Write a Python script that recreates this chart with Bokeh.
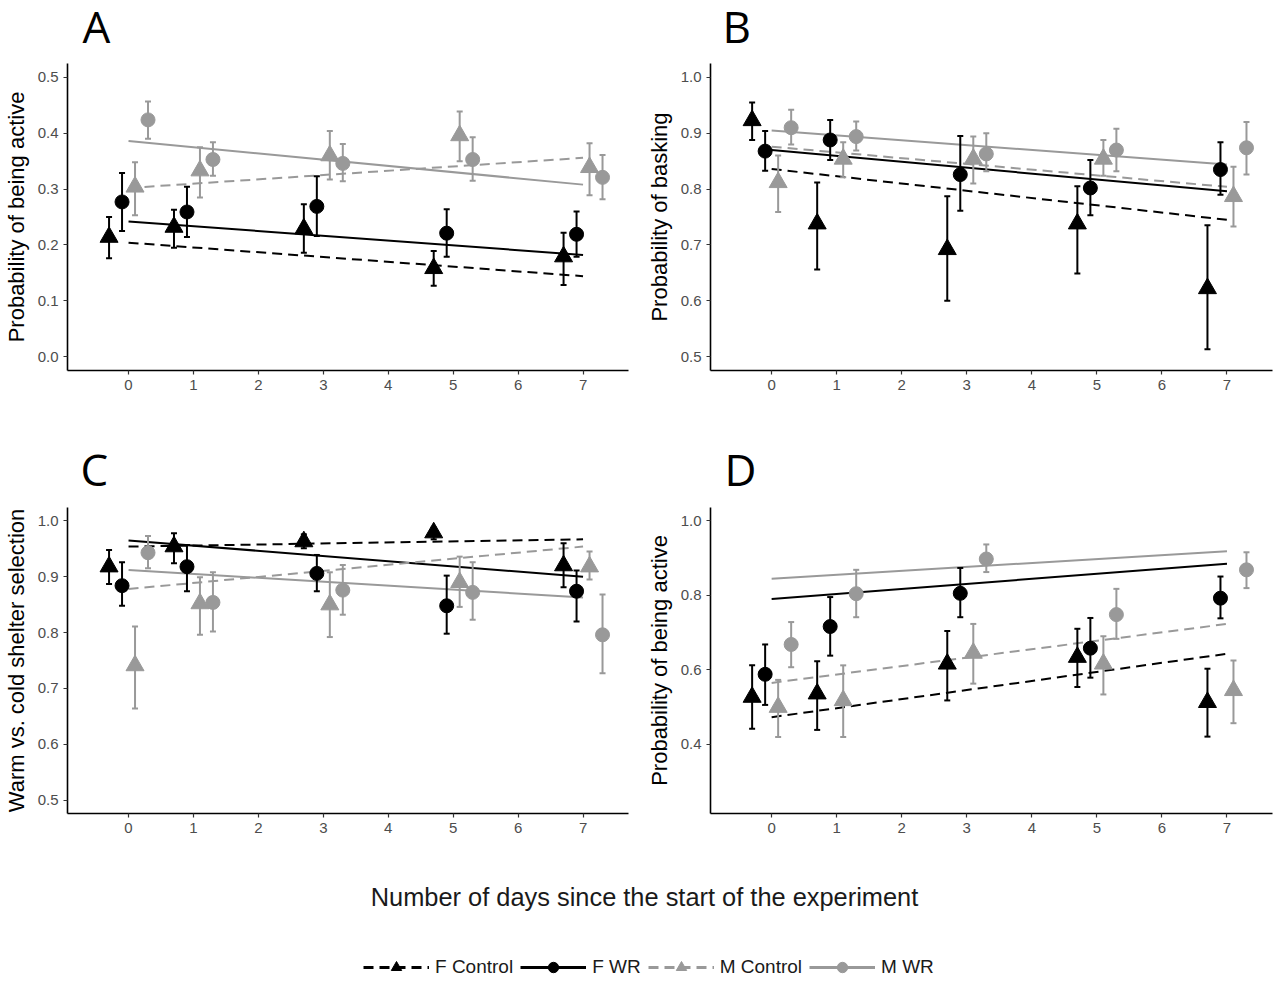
from bokeh.plotting import figure
from bokeh.layouts import column, row
from bokeh.models import (Range1d, FixedTicker, PrintfTickFormatter, Legend,
                          LegendItem, Label, ColumnDataSource)
from bokeh.embed import file_html
from bokeh.resources import INLINE

# ---------------- data ----------------
days = [0, 1, 3, 5, 7]
fit_days = [0, 7]
groups = ["F Control", "F WR", "M Control", "M WR"]

# Panel A: Probability of being active
a_fc = [0.214, 0.232, 0.229, 0.158, 0.179]
a_fc_lo = [0.176, 0.195, 0.186, 0.127, 0.128]
a_fc_hi = [0.250, 0.263, 0.273, 0.189, 0.222]
a_fwr = [0.277, 0.259, 0.269, 0.221, 0.219]
a_fwr_lo = [0.225, 0.214, 0.216, 0.179, 0.179]
a_fwr_hi = [0.329, 0.304, 0.323, 0.264, 0.260]
a_mc = [0.304, 0.333, 0.360, 0.396, 0.339]
a_mc_lo = [0.253, 0.285, 0.317, 0.350, 0.289]
a_mc_hi = [0.348, 0.375, 0.404, 0.439, 0.382]
a_mwr = [0.424, 0.353, 0.346, 0.353, 0.321]
a_mwr_lo = [0.390, 0.324, 0.314, 0.315, 0.282]
a_mwr_hi = [0.457, 0.384, 0.381, 0.393, 0.361]
a_fit_fc = [0.204, 0.144]
a_fit_fwr = [0.242, 0.182]
a_fit_mc = [0.302, 0.356]
a_fit_mwr = [0.386, 0.308]

# Panel B: Probability of basking
b_fc = [0.923, 0.738, 0.692, 0.738, 0.622]
b_fc_lo = [0.888, 0.656, 0.600, 0.649, 0.513]
b_fc_hi = [0.955, 0.812, 0.787, 0.805, 0.735]
b_fwr = [0.868, 0.888, 0.826, 0.802, 0.835]
b_fwr_lo = [0.833, 0.852, 0.761, 0.753, 0.790]
b_fwr_hi = [0.904, 0.924, 0.895, 0.852, 0.884]
b_mc = [0.812, 0.854, 0.854, 0.854, 0.787]
b_mc_lo = [0.759, 0.821, 0.810, 0.824, 0.733]
b_mc_hi = [0.860, 0.884, 0.894, 0.888, 0.840]
b_mwr = [0.910, 0.894, 0.863, 0.870, 0.874]
b_mwr_lo = [0.880, 0.869, 0.832, 0.832, 0.826]
b_mwr_hi = [0.942, 0.921, 0.900, 0.908, 0.920]
b_fit_fc = [0.836, 0.745]
b_fit_fwr = [0.870, 0.796]
b_fit_mc = [0.876, 0.804]
b_fit_mwr = [0.905, 0.844]

# Panel C: Warm vs. cold shelter selection
c_fc = [0.918, 0.954, 0.963, 0.979, 0.920]
c_fc_lo = [0.887, 0.924, 0.951, 0.967, 0.881]
c_fc_hi = [0.948, 0.978, 0.976, 0.988, 0.960]
c_fwr = [0.884, 0.918, 0.906, 0.848, 0.874]
c_fwr_lo = [0.848, 0.874, 0.874, 0.798, 0.820]
c_fwr_hi = [0.926, 0.957, 0.939, 0.902, 0.911]
c_mc = [0.741, 0.852, 0.850, 0.890, 0.918]
c_mc_lo = [0.664, 0.796, 0.792, 0.846, 0.895]
c_mc_hi = [0.811, 0.899, 0.908, 0.936, 0.945]
c_mwr = [0.943, 0.854, 0.876, 0.872, 0.796]
c_mwr_lo = [0.915, 0.802, 0.832, 0.823, 0.727]
c_mwr_hi = [0.973, 0.908, 0.921, 0.926, 0.868]
c_fit_fc = [0.954, 0.967]
c_fit_fwr = [0.965, 0.900]
c_fit_mc = [0.878, 0.954]
c_fit_mwr = [0.912, 0.863]

# Panel D: Probability of being active
d_fc = [0.527, 0.536, 0.616, 0.634, 0.513]
d_fc_lo = [0.442, 0.439, 0.518, 0.554, 0.421]
d_fc_hi = [0.612, 0.623, 0.704, 0.710, 0.603]
d_fwr = [0.588, 0.716, 0.805, 0.658, 0.792]
d_fwr_lo = [0.506, 0.638, 0.741, 0.579, 0.738]
d_fwr_hi = [0.668, 0.795, 0.873, 0.739, 0.850]
d_mc = [0.500, 0.518, 0.645, 0.616, 0.545]
d_mc_lo = [0.420, 0.420, 0.563, 0.534, 0.457]
d_mc_hi = [0.573, 0.612, 0.723, 0.690, 0.625]
d_mwr = [0.668, 0.804, 0.897, 0.748, 0.868]
d_mwr_lo = [0.607, 0.741, 0.862, 0.683, 0.819]
d_mwr_hi = [0.728, 0.868, 0.936, 0.817, 0.915]
d_fit_fc = [0.473, 0.643]
d_fit_fwr = [0.790, 0.884]
d_fit_mc = [0.565, 0.723]
d_fit_mwr = [0.844, 0.918]

x_ticks = [0, 1, 2, 3, 4, 5, 6, 7]
x_title = "Number of days since the start of the experiment"
panel_letters = ["A", "B", "C", "D"]

# ---------------- styles ----------------
BLACK = "#000000"
GREY = "#999999"
style = {
    "F Control": dict(color=BLACK, dash="10 6", marker="triangle", size=18, dodge=-0.3),
    "F WR": dict(color=BLACK, dash="solid", marker="circle", size=14, dodge=-0.1),
    "M Control": dict(color=GREY, dash="10 6", marker="triangle", size=18, dodge=0.1),
    "M WR": dict(color=GREY, dash="solid", marker="circle", size=14, dodge=0.3),
}
FONT = "Liberation Sans"
W = 1279


def make_panel(ylabel, yrange, yticks, series, fits, width, height,
               bl, br, bb):
    p = figure(width=width, height=height, x_range=Range1d(-0.94, 7.7),
               y_range=Range1d(*yrange), output_backend="svg",
               toolbar_location=None, min_border_left=bl, min_border_right=br,
               min_border_top=0, min_border_bottom=bb)
    p.outline_line_color = None
    p.grid.visible = False
    p.background_fill_color = "white"
    p.xaxis.ticker = FixedTicker(ticks=x_ticks)
    p.yaxis.ticker = FixedTicker(ticks=yticks)
    p.yaxis.formatter = PrintfTickFormatter(format="%.1f")
    for ax in (p.xaxis, p.yaxis):
        ax.axis_line_color = BLACK
        ax.axis_line_width = 1.6
        ax.major_tick_line_color = "#333333"
        ax.major_tick_line_width = 1.2
        ax.major_tick_in = 0
        ax.major_tick_out = 4
        ax.minor_tick_line_color = None
        ax.major_label_text_color = "#4d4d4d"
        ax.major_label_text_font = FONT
        ax.major_label_text_font_size = "15px"
        ax.major_label_standoff = 5
    p.yaxis.axis_label = ylabel
    p.yaxis.axis_label_text_font = FONT
    p.yaxis.axis_label_text_font_size = "22px"
    p.yaxis.axis_label_text_font_style = "normal"
    p.yaxis.axis_label_text_color = BLACK
    p.yaxis.axis_label_standoff = 6

    # fitted lines
    for g in groups:
        st = style[g]
        p.line(fit_days, fits[g], line_color=st["color"], line_width=2,
               line_dash=st["dash"])
    # error bars + points
    for g in groups:
        st = style[g]
        mean, lo, hi = series[g]
        xs = [d + st["dodge"] for d in days]
        src = ColumnDataSource(dict(x=xs, y=mean, lo=lo, hi=hi))
        p.segment(x0="x", y0="lo", x1="x", y1="hi", source=src,
                  line_color=st["color"], line_width=2)
        p.scatter(x="x", y="lo", source=src, marker="dash", size=6,
                  line_color=st["color"], line_width=2)
        p.scatter(x="x", y="hi", source=src, marker="dash", size=6,
                  line_color=st["color"], line_width=2)
        p.scatter(x="x", y="y", source=src, marker=st["marker"], size=st["size"],
                  fill_color=st["color"], line_color=st["color"])
    return p


def make_strip(height, letters, xs, ymid):
    s = figure(width=W, height=height, x_range=Range1d(0, W),
               y_range=Range1d(0, height), x_axis_type=None, y_axis_type=None,
               output_backend="svg", toolbar_location=None, min_border=0)
    s.outline_line_color = None
    for t, x in zip(letters, xs):
        s.add_layout(Label(x=x, y=ymid, text=t, text_font="Open Sans",
                           text_font_size="44px", text_color=BLACK,
                           text_align="left", text_baseline="middle"))
    return s


strip_top = make_strip(63, panel_letters[:2], [82, 722], 38)
pA = make_panel("Probability of being active", (-0.025, 0.525),
                [0.0, 0.1, 0.2, 0.3, 0.4, 0.5],
                {"F Control": (a_fc, a_fc_lo, a_fc_hi),
                 "F WR": (a_fwr, a_fwr_lo, a_fwr_hi),
                 "M Control": (a_mc, a_mc_lo, a_mc_hi),
                 "M WR": (a_mwr, a_mwr_lo, a_mwr_hi)},
                {"F Control": a_fit_fc, "F WR": a_fit_fwr,
                 "M Control": a_fit_mc, "M WR": a_fit_mwr},
                643, 367, 67, 15, 60)
pB = make_panel("Probability of basking", (0.475, 1.025),
                [0.5, 0.6, 0.7, 0.8, 0.9, 1.0],
                {"F Control": (b_fc, b_fc_lo, b_fc_hi),
                 "F WR": (b_fwr, b_fwr_lo, b_fwr_hi),
                 "M Control": (b_mc, b_mc_lo, b_mc_hi),
                 "M WR": (b_mwr, b_mwr_lo, b_mwr_hi)},
                {"F Control": b_fit_fc, "F WR": b_fit_fwr,
                 "M Control": b_fit_mc, "M WR": b_fit_mwr},
                636, 367, 65, 7, 60)
strip_mid = make_strip(77, panel_letters[2:], [80, 724], 39)
pC = make_panel("Warm vs. cold shelter selection", (0.476, 1.024),
                [0.5, 0.6, 0.7, 0.8, 0.9, 1.0],
                {"F Control": (c_fc, c_fc_lo, c_fc_hi),
                 "F WR": (c_fwr, c_fwr_lo, c_fwr_hi),
                 "M Control": (c_mc, c_mc_lo, c_mc_hi),
                 "M WR": (c_mwr, c_mwr_lo, c_mwr_hi)},
                {"F Control": c_fit_fc, "F WR": c_fit_fwr,
                 "M Control": c_fit_mc, "M WR": c_fit_mwr},
                643, 353, 67, 15, 47)
pD = make_panel("Probability of being active", (0.215, 1.035),
                [0.4, 0.6, 0.8, 1.0],
                {"F Control": (d_fc, d_fc_lo, d_fc_hi),
                 "F WR": (d_fwr, d_fwr_lo, d_fwr_hi),
                 "M Control": (d_mc, d_mc_lo, d_mc_hi),
                 "M WR": (d_mwr, d_mwr_lo, d_mwr_hi)},
                {"F Control": d_fit_fc, "F WR": d_fit_fwr,
                 "M Control": d_fit_mc, "M WR": d_fit_mwr},
                636, 353, 65, 7, 47)

# ---------------- bottom: shared x title + legend ----------------
pL = figure(width=W, height=120, x_range=Range1d(0, W), y_range=Range1d(0, 120),
            x_axis_type=None, y_axis_type=None, output_backend="svg",
            toolbar_location=None, min_border=0)
pL.outline_line_color = None
pL.add_layout(Label(x=644, y=84, text=x_title, text_font=FONT,
                    text_font_size="25.4px", text_color="#1a1a1a",
                    text_align="center", text_baseline="middle"))
items = []
for g in groups:
    st = style[g]
    rl = pL.line([0, 1], [0, 0], line_color=st["color"], line_width=3,
                 line_dash=st["dash"], visible=False)
    rp = pL.scatter([0], [0], marker=st["marker"], fill_color=st["color"],
                    line_color=st["color"], size=st["size"], visible=False)
    items.append(LegendItem(label=g, renderers=[rl, rp]))
legend = Legend(items=items, orientation="horizontal", location=(363, 0),
                label_text_font=FONT, label_text_font_size="19px",
                label_text_color="#1a1a1a", glyph_width=66, glyph_height=26,
                label_standoff=6, spacing=7, padding=0, margin=0,
                border_line_alpha=0, background_fill_alpha=0)
pL.add_layout(legend)

layout = column(strip_top, row(pA, pB), strip_mid, row(pC, pD), pL)
open("out.html", "w").write(file_html(layout, INLINE))
